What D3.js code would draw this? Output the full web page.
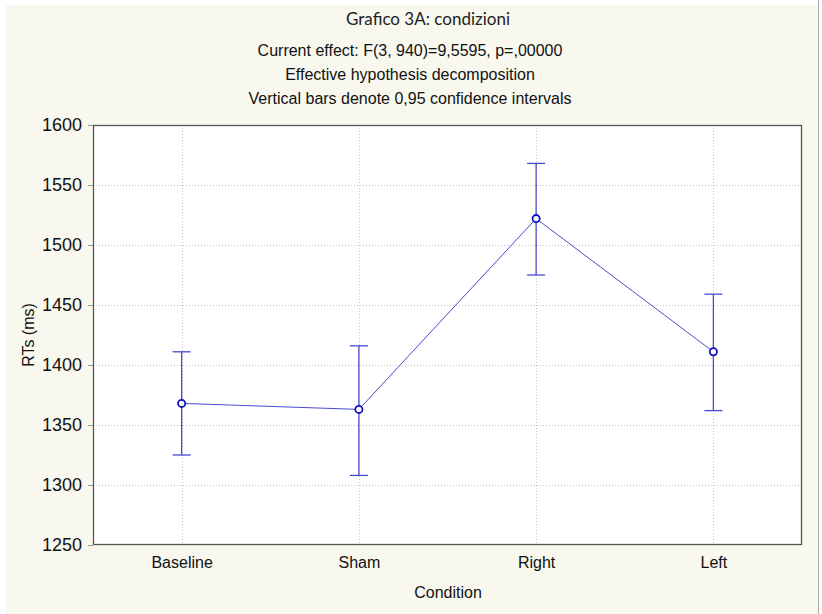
<!DOCTYPE html>
<html>
<head>
<meta charset="utf-8">
<script src="https://cdn.jsdelivr.net/npm/d3@7"></script>
<style>
  body { margin: 0; background: #fff; }
  svg { display: block; }
</style>
</head>
<body>
<div id="root"></div>
<script>
// data
let conditions = ["Baseline", "Sham", "Right", "Left"];
let means = [1368, 1363, 1522, 1411];
let ciLow = [1325, 1308, 1475, 1362];
let ciHigh = [1411, 1416, 1568, 1459];
let yTicks = [1250, 1300, 1350, 1400, 1450, 1500, 1550, 1600];

let titleLines = [
    "Current effect: F(3, 940)=9,5595, p=,00000",
    "Effective hypothesis decomposition",
    "Vertical bars denote 0,95 confidence intervals"
];

let width = 822, height = 614;
let margin = { top: 125, right: 20, bottom: 69, left: 93 };
let lineColor = "#4a4ad0";
let markColor = "#1010c0";
let sans = "'Liberation Sans', Arial, sans-serif";

let svg = d3.select('#root').append('svg')
    .attr('width', width)
    .attr('height', height);

// cream panel
svg.append('rect')
    .attr('x', 6).attr('y', 5)
    .attr('width', 812).attr('height', 609)
    .attr('fill', '#f8f8ef');
svg.append('line')
    .attr('x1', 818.5).attr('x2', 818.5).attr('y1', 0).attr('y2', height)
    .attr('stroke', '#aaa');

let x = d3.scalePoint()
    .domain(conditions)
    .range([margin.left, width - margin.right])
    .padding(0.5);

let y = d3.scaleLinear()
    .domain([1250, 1600])
    .range([height - margin.bottom, margin.top]);

// plot area
svg.append('rect')
    .attr('x', margin.left).attr('y', margin.top)
    .attr('width', width - margin.right - margin.left)
    .attr('height', height - margin.bottom - margin.top)
    .attr('fill', 'white');

// grid
svg.append('g').selectAll('line')
    .data(yTicks.slice(1, -1))
    .enter().append('line')
    .attr('x1', margin.left).attr('x2', width - margin.right)
    .attr('y1', d => Math.round(y(d)) + 0.5).attr('y2', d => Math.round(y(d)) + 0.5)
    .attr('stroke', '#c4c4c4')
    .attr('stroke-dasharray', '1,2');

svg.append('g').selectAll('line')
    .data(conditions)
    .enter().append('line')
    .attr('x1', d => Math.round(x(d)) + 0.5).attr('x2', d => Math.round(x(d)) + 0.5)
    .attr('y1', margin.top).attr('y2', height - margin.bottom)
    .attr('stroke', '#c4c4c4')
    .attr('stroke-dasharray', '1,2');

// axes
let yAxis = svg.append('g')
    .attr('transform', 'translate(' + margin.left + ',0)')
    .call(d3.axisLeft(y).tickValues(yTicks).tickFormat(d3.format('d')).tickSize(5).tickPadding(6));
yAxis.select('.domain').remove();
yAxis.selectAll('.tick line').attr('stroke', '#999');
yAxis.selectAll('.tick text')
    .style('font-family', sans)
    .style('font-size', '18px').attr('fill', '#111');

let xAxis = svg.append('g')
    .attr('transform', 'translate(0,' + (height - margin.bottom) + ')')
    .call(d3.axisBottom(x).tickSize(0).tickPadding(12));
xAxis.select('.domain').remove();
xAxis.selectAll('.tick text')
    .style('font-family', sans)
    .style('font-size', '16px').attr('fill', '#111');

// frame
svg.append('rect')
    .attr('x', margin.left + 0.5).attr('y', margin.top + 0.5)
    .attr('width', width - margin.right - margin.left - 1)
    .attr('height', height - margin.bottom - margin.top - 1)
    .attr('fill', 'none')
    .attr('stroke', '#555')
    .attr('stroke-width', 1.3);

// error bars
let bars = svg.append('g').selectAll('g')
    .data(conditions)
    .enter().append('g');
bars.append('line')
    .attr('x1', d => x(d)).attr('x2', d => x(d))
    .attr('y1', (d, i) => y(ciLow[i])).attr('y2', (d, i) => y(ciHigh[i]))
    .attr('stroke', lineColor).attr('stroke-width', 1.3);
bars.append('line')
    .attr('x1', d => x(d) - 9).attr('x2', d => x(d) + 9)
    .attr('y1', (d, i) => y(ciLow[i])).attr('y2', (d, i) => y(ciLow[i]))
    .attr('stroke', lineColor).attr('stroke-width', 1.3);
bars.append('line')
    .attr('x1', d => x(d) - 9).attr('x2', d => x(d) + 9)
    .attr('y1', (d, i) => y(ciHigh[i])).attr('y2', (d, i) => y(ciHigh[i]))
    .attr('stroke', lineColor).attr('stroke-width', 1.3);

// mean line
let line = d3.line()
    .x((d, i) => x(conditions[i]))
    .y(d => y(d));
svg.append('path')
    .datum(means)
    .attr('d', line)
    .attr('fill', 'none')
    .attr('stroke', lineColor)
    .attr('stroke-width', 1);

svg.append('g').selectAll('circle')
    .data(means)
    .enter().append('circle')
    .attr('cx', (d, i) => x(conditions[i]))
    .attr('cy', d => y(d))
    .attr('r', 3.6)
    .attr('fill', 'white')
    .attr('stroke', markColor)
    .attr('stroke-width', 1.8);

// titles
svg.append('text')
    .attr('x', 428).attr('y', 25)
    .attr('text-anchor', 'middle')
    .style('font-family', "Lato, 'Open Sans', sans-serif")
    .style('font-size', '17px')
    .attr('fill', '#222')
    .text("Grafico 3A: condizioni");

svg.append('g').selectAll('text')
    .data(titleLines)
    .enter().append('text')
    .attr('x', 410)
    .attr('y', (d, i) => 56 + i * 24)
    .attr('text-anchor', 'middle')
    .style('font-family', sans)
    .style('font-size', '16px')
    .attr('fill', '#111')
    .text(d => d);

// axis titles
svg.append('text')
    .attr('x', 448).attr('y', 598)
    .attr('text-anchor', 'middle')
    .style('font-family', sans)
    .style('font-size', '16px')
    .attr('fill', '#111')
    .text("Condition");

svg.append('text')
    .attr('transform', 'translate(34,' + y(1425) + ') rotate(-90)')
    .attr('text-anchor', 'middle')
    .style('font-family', sans)
    .style('font-size', '16px')
    .attr('fill', '#111')
    .text("RTs (ms)");
</script>
</body>
</html>
